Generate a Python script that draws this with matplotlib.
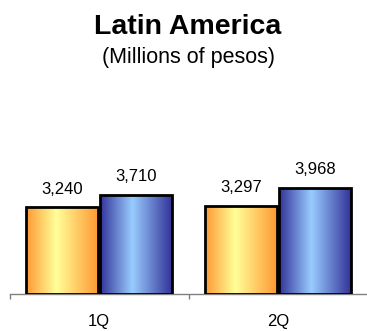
import matplotlib
matplotlib.use("Agg")
import matplotlib.pyplot as plt
import numpy as np
from matplotlib.colors import LinearSegmentedColormap

categories = ["1Q", "2Q"]
series_a = [3240, 3297]
series_b = [3710, 3968]
labels_a = ["3,240", "3,297"]
labels_b = ["3,710", "3,968"]

W, H = 367, 331
fig = plt.figure(figsize=(W / 100, H / 100), dpi=100)
ax = fig.add_axes([9.5 / W, 37 / H, 358 / W, 194 / H])

cmap_a = LinearSegmentedColormap.from_list("a", [(0, "#FF9933"), (0.42, "#FFFF99"), (1, "#FF9933")])
cmap_b = LinearSegmentedColormap.from_list("b", [(0, "#333399"), (0.45, "#99CCFF"), (1, "#333399")])
grad = np.linspace(0, 1, 256).reshape(1, -1)

width = 0.40
offset = 0.208
x = np.arange(len(categories)) + 0.5

def gradient_bars(xs, vals, cmap, labels):
    bars = ax.bar(xs, vals, width=width, facecolor="none", edgecolor="black", linewidth=2.0, zorder=3)
    for b, lab in zip(bars, labels):
        x0, y0 = b.get_x(), b.get_y()
        w, h = b.get_width(), b.get_height()
        im = ax.imshow(grad, cmap=cmap, aspect="auto", extent=[x0, x0 + w, y0, y0 + h], zorder=2, interpolation="bicubic")
        im.set_clip_path(b)
        ax.annotate(lab, (x0 + w / 2, y0 + h), xytext=(0, 10), textcoords="offset points",
                    ha="center", va="baseline", fontsize=12, family="Liberation Sans", color="black")

gradient_bars(x - offset, series_a, cmap_a, labels_a)
gradient_bars(x + offset, series_b, cmap_b, labels_b)
ax.set_xlim(0, 2)
ax.set_ylim(0, 194 * 37.45)

for s in ["left", "right", "top"]:
    ax.spines[s].set_visible(False)
ax.spines["bottom"].set_color("#808080")
ax.spines["bottom"].set_linewidth(1.0)
ax.set_yticks([])
ax.set_xticks(x)
ax.set_xticklabels(categories, family="Liberation Sans", fontsize=12)
ax.tick_params(axis="x", which="major", length=0, pad=14.5)
ax.set_xticks([0, 1, 2], minor=True)
ax.tick_params(axis="x", which="minor", length=3.3, width=1.0, color="#808080", direction="out")

cx = 188 / W
fig.text(cx, 1 - 26.7 / H, "Latin America", ha="center", va="center", fontsize=20.5,
         fontweight="bold", family="Liberation Sans")
fig.text(cx, 1 - 57 / H, "(Millions of pesos)", ha="center", va="center", fontsize=15.5,
         family="Liberation Sans")

fig.savefig("out.png", dpi=100)
